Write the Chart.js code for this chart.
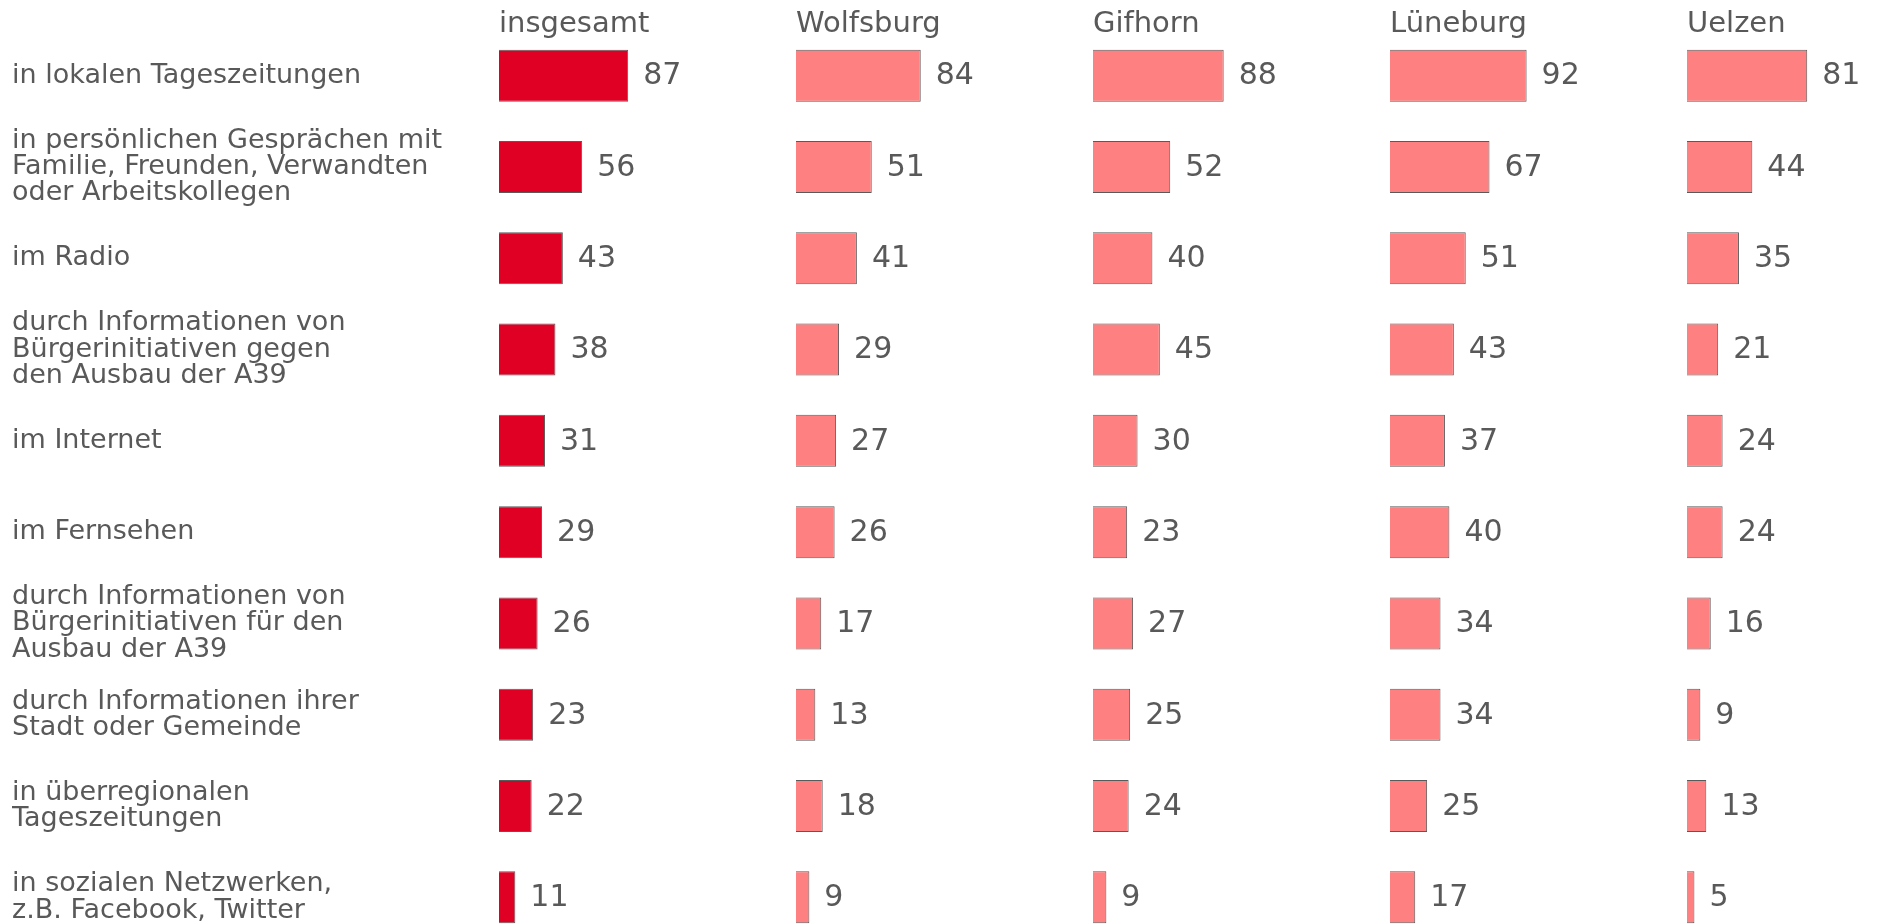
<!DOCTYPE html>
<html lang="de">
<head>
<meta charset="utf-8">
<title>Informationsquellen A39</title>
<script src="https://cdn.jsdelivr.net/npm/chart.js@4/dist/chart.umd.min.js"></script>
<style>
  html, body { margin: 0; padding: 0; background: #fff; overflow: hidden; }
  canvas { display: block; }
</style>
</head>
<body>
<canvas id="sourceChart" width="1877" height="943"></canvas>
<script>
const categories = [
    ['in lokalen Tageszeitungen'],
    ['in persönlichen Gesprächen mit', 'Familie, Freunden, Verwandten', 'oder Arbeitskollegen'],
    ['im Radio'],
    ['durch Informationen von', 'Bürgerinitiativen gegen', 'den Ausbau der A39'],
    ['im Internet'],
    ['im Fernsehen'],
    ['durch Informationen von', 'Bürgerinitiativen für den', 'Ausbau der A39'],
    ['durch Informationen ihrer', 'Stadt oder Gemeinde'],
    ['in überregionalen', 'Tageszeitungen'],
    ['in sozialen Netzwerken,', 'z.B. Facebook, Twitter']
];
const regions = ['insgesamt', 'Wolfsburg', 'Gifhorn', 'Lüneburg', 'Uelzen'];
const insgesamt = [87, 56, 43, 38, 31, 29, 26, 23, 22, 11];
const wolfsburg = [84, 51, 41, 29, 27, 26, 17, 13, 18, 9];
const gifhorn   = [88, 52, 40, 45, 30, 23, 27, 25, 24, 9];
const lueneburg = [92, 67, 51, 43, 37, 40, 34, 34, 25, 17];
const uelzen    = [81, 44, 35, 21, 24, 24, 16, 9, 13, 5];

const seriesValues = [insgesamt, wolfsburg, gifhorn, lueneburg, uelzen];
const textColor = '#595959';
const fontFamily = "'DejaVu Sans', Verdana, sans-serif";

// value labels right of each bar
const valueLabels = {
    id: 'valueLabels',
    afterDatasetsDraw(chart) {
        const ctx = chart.ctx;
        ctx.save();
        ctx.font = '30px ' + fontFamily;
        ctx.fillStyle = textColor;
        ctx.textAlign = 'left';
        ctx.textBaseline = 'middle';
        chart.data.datasets.forEach((ds, i) => {
            chart.getDatasetMeta(i).data.forEach((bar, j) => {
                ctx.fillText(String(ds.data[j]), bar.x + 15, bar.y + 1);
            });
        });
        ctx.restore();
    }
};

// panel widths: last one is cut by the page edge
const panelWeights = [297, 297, 297, 297, 190];
const panelMax = [200, 200, 200, 200, 128];

const scales = {
    y: {
        position: 'left',
        grid: { display: false },
        border: { display: false },
        ticks: {
            autoSkip: false,
            crossAlign: 'far',
            padding: 0,
            color: textColor,
            font: { family: fontFamily, size: 27, lineHeight: 0.98 }
        },
        afterFit(scale) {
            scale.width = 487;
            // multi-line labels should not shrink the plot area
            scale.paddingTop = 0;
            scale.paddingBottom = 0;
        }
    }
};

const datasets = regions.map((name, i) => {
    const id = 'x' + i;
    scales[id] = {
        type: 'linear',
        position: 'top',
        stack: 'regions',
        stackWeight: panelWeights[i],
        weight: regions.length - i, // top boxes are laid out in reverse weight order
        min: 0,
        max: panelMax[i],
        grid: { display: false },
        border: { display: false },
        ticks: { display: false },
        title: {
            display: true,
            text: name,
            align: 'start',
            color: textColor,
            font: { family: fontFamily, size: 29, lineHeight: 1.0 },
            padding: { top: 10, bottom: 0 }
        },
        afterFit(scale) { scale.height = 30; }
    };
    return {
        label: name,
        data: seriesValues[i],
        xAxisID: id,
        yAxisID: 'y',
        grouped: false,
        backgroundColor: i === 0 ? '#E00024' : '#FF8080',
        borderColor: '#5A5A5A',
        borderWidth: 1,
        barPercentage: 0.57,
        categoryPercentage: 1.0
    };
});

new Chart(document.getElementById('sourceChart'), {
    type: 'bar',
    data: {
        labels: categories,
        datasets: datasets
    },
    options: {
        indexAxis: 'y',
        responsive: false,
        animation: false,
        layout: { padding: { left: 12, top: 0, right: 0, bottom: 0 } },
        plugins: {
            legend: { display: false },
            tooltip: { enabled: false }
        },
        scales: scales
    },
    plugins: [valueLabels]
});
</script>
</body>
</html>
